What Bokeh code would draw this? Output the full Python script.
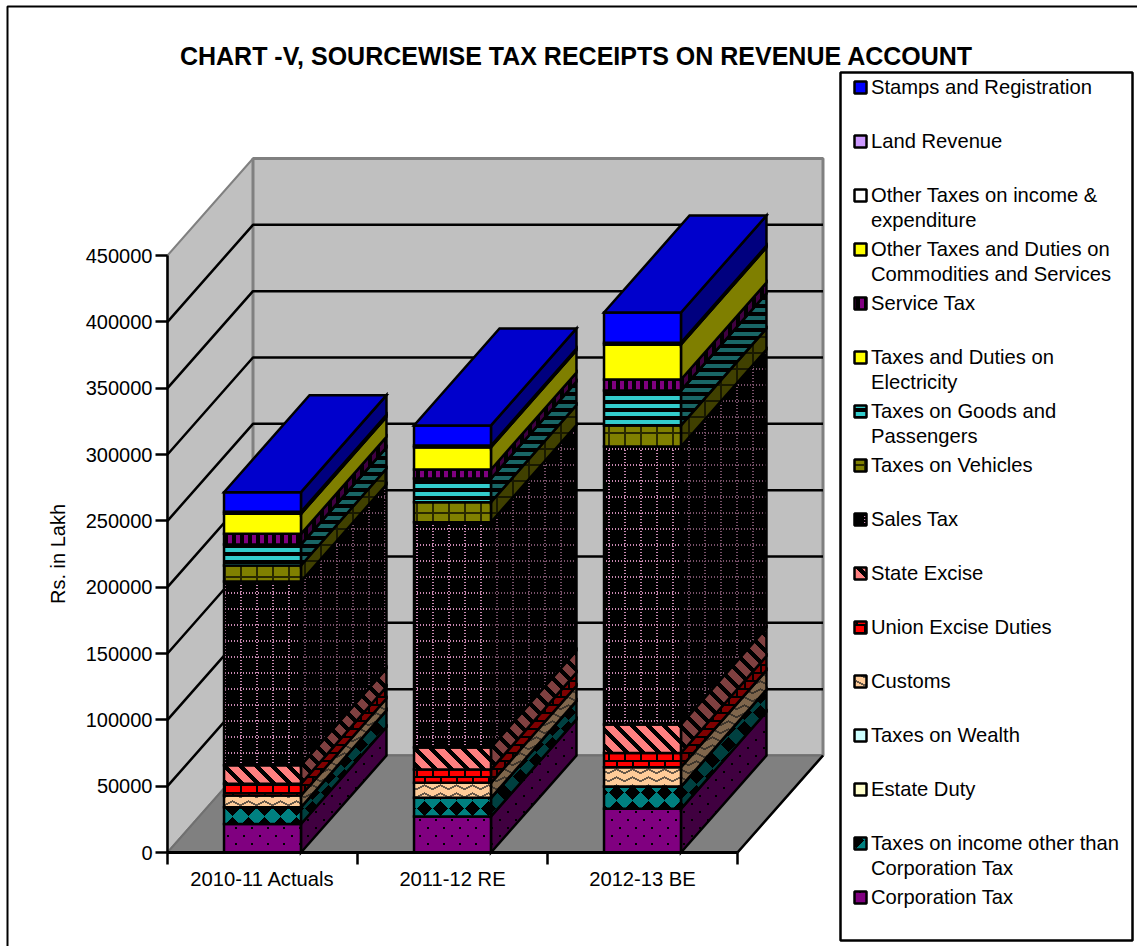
import base64
import struct
import zlib

from bokeh.plotting import figure
from bokeh.models import LinearAxis, FixedTicker, NumeralTickFormatter, ImageURLTexture
from bokeh.core.properties import value
from bokeh.embed import file_html
from bokeh.resources import INLINE

TITLE = "CHART -V, SOURCEWISE TAX RECEIPTS ON REVENUE ACCOUNT"
YEARS = ["2010-11 Actuals", "2011-12 RE", "2012-13 BE"]
Y_TICKS = [0, 50000, 100000, 150000, 200000, 250000, 300000, 350000, 400000, 450000]
Y_LABEL = "Rs. in Lakh"

# series, bottom of the stack first
corporation = [21500, 27200, 32900]
income_other = [12600, 14000, 16800]
estate_duty = [0, 0, 0]
wealth = [0, 0, 0]
customs = [8900, 11300, 14600]
union_excise = [8800, 10000, 10700]
state_excise = [14000, 16700, 21500]
sales_tax = [138500, 169800, 209500]
vehicles = [12000, 15100, 15900]
goods_passengers = [15900, 17800, 26400]
electricity = [0, 0, 0]
service_tax = [8000, 6800, 8200]
other_duties = [15100, 16800, 26500]
other_income = [0, 0, 0]
land_revenue = [1500, 1300, 1300]
stamps = [14800, 15100, 22700]


# --- fill textures: each takes (x, y) in the tile and says whether the pixel is "ink" ---
def t_dots(x, y):
    return (x in (3, 4) and y in (3, 4)) or (x in (11, 12) and y in (11, 12))


def t_diamonds(x, y):
    return abs(x - 8) + abs(y - 8) <= 7


def t_zigzag(x, y):
    tri = abs((x % 16) - 8) / 2
    return int((y - tri) % 8) < 2


def t_brick(x, y):
    if y % 8 < 2:
        return True
    off = 0 if y % 16 < 8 else 8
    return (x + off) % 16 < 2


def t_diag(x, y):
    return (x - y) % 16 < 6


def t_dotted_grid(x, y):
    on_h = y % 16 < 2 and x % 3 == 0
    on_v = x % 16 < 2 and y % 3 == 0
    return on_h or on_v


def t_cross(x, y):
    return x % 16 < 2 or y % 16 < 2


def t_stripes(x, y):
    return y % 8 < 4


def t_bars(x, y):
    return x % 8 < 4


SERIES = [
    ("Corporation Tax", corporation, "#800080", t_dots, "#000000", 16),
    ("Taxes on income other than\nCorporation Tax", income_other, "#008080", t_diamonds, "#000000", 16),
    ("Estate Duty", estate_duty, "#FFFFCC", None, None, 1),
    ("Taxes on Wealth", wealth, "#CCFFFF", None, None, 1),
    ("Customs", customs, "#FFCC99", t_zigzag, "#6A5A4A", 16),
    ("Union Excise Duties", union_excise, "#FF0000", t_brick, "#000000", 16),
    ("State Excise", state_excise, "#FF8080", t_diag, "#000000", 16),
    ("Sales Tax", sales_tax, "#000000", t_dotted_grid, "#C888B0", 48),
    ("Taxes on Vehicles", vehicles, "#808000", t_cross, "#2A2A00", 16),
    ("Taxes on Goods and\nPassengers", goods_passengers, "#33CCCC", t_stripes, "#000000", 8),
    ("Taxes and Duties on\nElectricity", electricity, "#FFFF00", None, None, 1),
    ("Service Tax", service_tax, "#800080", t_bars, "#000000", 8),
    ("Other Taxes and Duties on\nCommodities and Services", other_duties, "#FFFF00", None, None, 1),
    ("Other Taxes on income &\nexpenditure", other_income, "#FFFFFF", None, None, 1),
    ("Land Revenue", land_revenue, "#CC99FF", None, None, 1),
    ("Stamps and Registration", stamps, "#0000FF", None, None, 1),
]

W, H = 1137, 946
X0_PX, Y0_PX = 167, 852
UNIT_PX = 190
K = 450000 / 597


def px(x):
    return (x - X0_PX) / UNIT_PX


def py(y):
    return (Y0_PX - y) * K


DX = 85.5 / UNIT_PX
DY = 97 * K
BAR_W = 0.405
TOP = 450000
LW = 2.5


def rgb(hexcol):
    return tuple(int(hexcol[i:i + 2], 16) for i in (1, 3, 5))


def shade(hexcol, f):
    r, g, b = rgb(hexcol)
    return "#%02X%02X%02X" % (int(r * f), int(g * f), int(b * f))


def png_uri(fn, ink, paper, size):
    ink, paper = rgb(ink), rgb(paper)
    raw = b""
    for y in range(size):
        raw += b"\x00" + b"".join(bytes(ink if fn(x, y) else paper) for x in range(size))

    def chunk(tag, data):
        return struct.pack(">I", len(data)) + tag + data + struct.pack(">I", zlib.crc32(tag + data))

    blob = (b"\x89PNG\r\n\x1a\n" + chunk(b"IHDR", struct.pack(">IIBBBBB", size, size, 8, 2, 0, 0, 0))
            + chunk(b"IDAT", zlib.compress(raw)) + chunk(b"IEND", b""))
    return "data:image/png;base64," + base64.b64encode(blob).decode()


def texture_kw(name, fn, ink, paper, size):
    tex = ImageURLTexture(url=png_uri(fn, ink, paper, size), repetition="repeat")
    return dict(hatch_pattern=name, hatch_extra={name: tex})


p = figure(width=W, height=H, x_range=(px(0), px(W)), y_range=(py(H), py(0)),
           x_axis_type=None, y_axis_type=None, toolbar_location=None,
           output_backend="svg", min_border=0, outline_line_color=None,
           background_fill_color="white", border_fill_color="white")
p.grid.visible = False

# walls and floor
WALL = "#C0C0C0"
EDGE = "#808080"
n = len(YEARS)
p.patch([0, DX, DX, 0], [0, DY, TOP + DY, TOP], fill_color=WALL, line_color=EDGE, line_width=2)
p.patch([DX, n + DX, n + DX, DX], [DY, DY, TOP + DY, TOP + DY], fill_color=WALL, line_color=EDGE, line_width=3)
p.patch([0, n, n + DX, DX], [0, 0, DY, DY], fill_color=EDGE, line_color="#707070", line_width=2)
p.line([n, n + DX], [0, DY], line_color="black", line_width=LW)

grid_vals = [t for t in Y_TICKS if 0 < t < TOP]
p.multi_line([[0, DX, n + DX] for _ in grid_vals],
             [[t, t + DY, t + DY] for t in grid_vals],
             line_color="black", line_width=LW)

# stacked bars
for i in range(n):
    left, right = i + 0.5 - BAR_W / 2, i + 0.5 + BAR_W / 2
    base = 0
    for j, (name, vals, color, fn, ink, size) in enumerate(SERIES):
        top = base + vals[i]
        fkw, skw = {}, {}
        if fn:
            fkw = texture_kw(f"front{j}", fn, ink, color, size)
            skw = texture_kw(f"side{j}", fn, shade(ink, 0.6), shade(color, 0.5), size)
        p.patch([right, right + DX, right + DX, right], [base, base + DY, top + DY, top],
                fill_color=shade(color, 0.5), line_color="black", line_width=LW, line_join="miter", **skw)
        p.patch([left, right, right, left], [base, base, top, top],
                fill_color=color, line_color="black", line_width=LW, line_join="miter", **fkw)
        base = top
    last = SERIES[-1][2]
    p.patch([left, right, right + DX, left + DX], [base, base, base + DY, base + DY],
            fill_color=shade(last, 0.8), line_color="black", line_width=LW, line_join="miter")

# axes
y_axis = LinearAxis(fixed_location=0, bounds=(0, TOP), ticker=FixedTicker(ticks=Y_TICKS),
                    formatter=NumeralTickFormatter(format="0"),
                    axis_label=Y_LABEL, axis_label_standoff=14,
                    axis_label_text_font="Liberation Sans", axis_label_text_font_size="20px",
                    axis_label_text_font_style="normal", axis_label_text_color="black",
                    major_label_text_font="Liberation Sans", major_label_text_font_size="20px",
                    major_label_text_color="black", major_label_standoff=3,
                    major_tick_out=12, major_tick_in=0, minor_tick_out=0, minor_tick_in=0,
                    major_tick_line_color="black", major_tick_line_width=LW,
                    axis_line_color="black", axis_line_width=LW)
p.add_layout(y_axis, "left")

x_axis = LinearAxis(fixed_location=0, bounds=(0, n),
                    ticker=FixedTicker(ticks=[k + 0.5 for k in range(n)], minor_ticks=list(range(n + 1))),
                    major_label_overrides={k + 0.5: YEARS[k] for k in range(n)},
                    major_label_text_font="Liberation Sans", major_label_text_font_size="20.2px",
                    major_label_text_color="black", major_label_standoff=3,
                    major_tick_out=0, major_tick_in=0, minor_tick_out=12, minor_tick_in=0,
                    minor_tick_line_color="black", minor_tick_line_width=LW,
                    axis_line_color="black", axis_line_width=3)
p.add_layout(x_axis, "below")

# chart border
p.line([px(7), px(7), px(W)], [py(H), py(6), py(6)], line_color="black", line_width=2)

# title
p.text([px(576)], [py(55)], text=[TITLE], text_font=value("Liberation Sans"),
       text_font_size="25px", text_font_style="bold", text_align="center",
       text_baseline="middle", text_color="black")

# legend
p.patch([px(840), px(1132), px(1132), px(840)], [py(940), py(940), py(72), py(72)],
        fill_color="white", line_color="black", line_width=LW)
for row, (name, vals, color, fn, ink, size) in enumerate(reversed(SERIES)):
    yc = 87 + 54 * row
    hkw = texture_kw(f"key{row}", fn, ink, color, size) if fn else {}
    p.patch([px(854), px(866), px(866), px(854)], [py(yc + 6), py(yc + 6), py(yc - 6), py(yc - 6)],
            fill_color=color, line_color="black", line_width=LW, **hkw)
    p.text([px(870.5)], [py(yc - 12)], text=[name], text_font=value("Liberation Sans"),
           text_font_size="20.2px", text_align="left", text_baseline="top",
           text_color="black", text_line_height=1.15)

open("out.html", "w").write(file_html(p, INLINE))
